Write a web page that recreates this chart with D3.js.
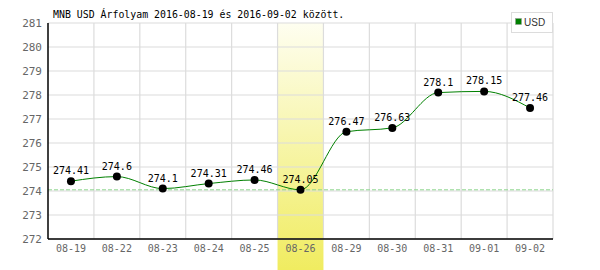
<!DOCTYPE html>
<html>
<head>
<meta charset="utf-8">
<script src="https://cdn.jsdelivr.net/npm/d3@7"></script>
<style>
body { margin: 0; background: #fff; }
text { font-family: "DejaVu Sans Mono", monospace; }
</style>
</head>
<body>
<svg id="chart" width="600" height="270"></svg>
<script>
// data
const dates = ["08-19", "08-22", "08-23", "08-24", "08-25", "08-26", "08-29", "08-30", "08-31", "09-01", "09-02"];
const rates = [274.41, 274.6, 274.1, 274.31, 274.46, 274.05, 276.47, 276.63, 278.1, 278.15, 277.46];
const yTicks = [272, 273, 274, 275, 276, 277, 278, 279, 280, 281];
const highlightDate = "08-26";
const title = "MNB USD Árfolyam 2016-08-19 és 2016-09-02 között.";
const seriesName = "USD";

const svg = d3.select("#chart");
const mLeft = 48, mRight = 553, mTop = 23, mBottom = 239;

const x = d3.scaleBand().domain(dates).range([mLeft, mRight]);
const y = d3.scaleLinear().domain([272, 281]).range([mBottom, mTop]);

// highlight gradient
const grad = svg.append("defs").append("linearGradient")
    .attr("id", "hl").attr("x1", 0).attr("y1", 0).attr("x2", 0).attr("y2", 1);
grad.append("stop").attr("offset", "0%").attr("stop-color", "#fefef0");
grad.append("stop").attr("offset", "100%").attr("stop-color", "#f0ec60");

svg.append("rect")
    .attr("x", x(highlightDate))
    .attr("y", mTop)
    .attr("width", x.bandwidth())
    .attr("height", 270 - mTop)
    .attr("fill", "url(#hl)");

// grid
svg.append("g").selectAll("line")
    .data(yTicks)
    .enter().append("line")
    .attr("x1", mLeft).attr("x2", mRight)
    .attr("y1", d => y(d)).attr("y2", d => y(d))
    .attr("stroke", "#dcdcdc").attr("stroke-width", 1.2);

svg.append("g").selectAll("line")
    .data(dates)
    .enter().append("line")
    .attr("x1", d => x(d) + x.bandwidth()).attr("x2", d => x(d) + x.bandwidth())
    .attr("y1", mTop).attr("y2", mBottom)
    .attr("stroke", "#dcdcdc").attr("stroke-width", 1.2);

// min reference line
svg.append("line")
    .attr("x1", mLeft).attr("x2", mRight)
    .attr("y1", y(d3.min(rates))).attr("y2", y(d3.min(rates)))
    .attr("stroke", "#8fd68f").attr("stroke-width", 1)
    .attr("stroke-dasharray", "4,2");

// axes
svg.append("line").attr("x1", mLeft).attr("x2", mLeft).attr("y1", mTop).attr("y2", mBottom)
    .attr("stroke", "#000").attr("stroke-width", 1.5);
svg.append("line").attr("x1", mLeft).attr("x2", mRight).attr("y1", mBottom).attr("y2", mBottom)
    .attr("stroke", "#000").attr("stroke-width", 1.5);

svg.append("g").selectAll("text")
    .data(yTicks)
    .enter().append("text")
    .attr("x", mLeft - 6).attr("y", d => y(d) + 4)
    .attr("text-anchor", "end")
    .attr("font-size", "11px")
    .attr("fill", "#666")
    .text(d => d);

svg.append("g").selectAll("text")
    .data(dates)
    .enter().append("text")
    .attr("x", d => x(d) + x.bandwidth() / 2).attr("y", mBottom + 13)
    .attr("text-anchor", "middle")
    .attr("font-size", "10px")
    .attr("fill", "#666")
    .text(d => d);

// line + points
const cx = (d, i) => x(dates[i]) + x.bandwidth() / 2;
svg.append("path")
    .datum(rates)
    .attr("d", d3.line().x(cx).y(d => y(d)).curve(d3.curveMonotoneX))
    .attr("fill", "none")
    .attr("stroke", "#008000")
    .attr("stroke-width", 1);

svg.append("g").selectAll("circle")
    .data(rates)
    .enter().append("circle")
    .attr("cx", cx).attr("cy", d => y(d)).attr("r", 4)
    .attr("fill", "#000");

svg.append("g").selectAll("text")
    .data(rates)
    .enter().append("text")
    .attr("x", cx).attr("y", d => y(d) - 7)
    .attr("text-anchor", "middle")
    .attr("font-size", "10px")
    .attr("fill", "#000")
    .text(d => d);

// title
svg.append("text")
    .attr("x", 53).attr("y", 18)
    .attr("font-size", "9.9px")
    .attr("fill", "#000")
    .text(title);

// legend
svg.append("rect").attr("x", 511.5).attr("y", 12.5).attr("width", 41).attr("height", 20)
    .attr("fill", "#fff").attr("stroke", "#dcdcdc");
svg.append("rect").attr("x", 515.5).attr("y", 18.5).attr("width", 6).attr("height", 6)
    .attr("fill", "#008000").attr("stroke", "#999").attr("stroke-width", 0.5);
svg.append("text").attr("x", 524).attr("y", 25.5)
    .attr("font-size", "10px").attr("fill", "#333")
    .style("font-family", "'Liberation Sans', sans-serif")
    .text(seriesName);
</script>
</body>
</html>
